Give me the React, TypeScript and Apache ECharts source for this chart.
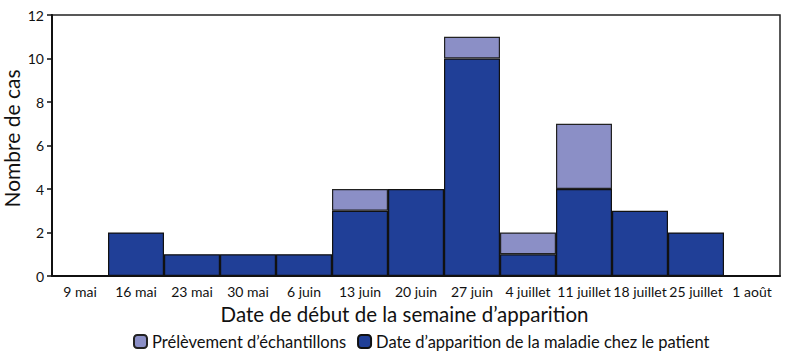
import React, { useEffect, useRef } from "react";
import * as echarts from "echarts";

const categories = ["9 mai", "16 mai", "23 mai", "30 mai", "6 juin", "13 juin", "20 juin", "27 juin", "4 juillet", "11 juillet", "18 juillet", "25 juillet", "1 août"];
const onsetValues = [0, 2, 1, 1, 1, 3, 4, 10, 1, 4, 3, 2, 0];
const sampleValues = [0, 0, 0, 0, 0, 1, 0, 1, 1, 3, 0, 0, 0];
const yTicks = [0, 2, 4, 6, 8, 10, 12];

const FONT = "Lato, 'Noto Sans', sans-serif";

export default function App() {
  const ref = useRef<HTMLDivElement>(null);
  useEffect(() => {
    if (!ref.current) return;
    const chart = echarts.init(ref.current, undefined, { renderer: "svg" });
    chart.setOption({
      animation: false,
      textStyle: { fontFamily: FONT },
      grid: {
        left: 52, right: 12, top: 15, bottom: 86,
        show: true, borderColor: "#222", borderWidth: 1.5,
        containLabel: false, outerBoundsMode: "none",
      },
      legend: {
        top: 328,
        left: 128,
        itemWidth: 13,
        itemHeight: 13,
        itemGap: 11,
        textStyle: { fontFamily: FONT, fontSize: 16.5, color: "#111" },
        data: ["Prélèvement d’échantillons", "Date d’apparition de la maladie chez le patient"],
      },
      xAxis: {
        type: "category",
        data: categories,
        boundaryGap: true,
        name: "Date de début de la semaine d’apparition",
        nameLocation: "middle",
        nameGap: 27,
        nameMoveOverlap: false,
        nameTextStyle: { fontFamily: FONT, fontSize: 20.5, color: "#111", padding: [0, 23, 0, 0] },
        axisLine: { lineStyle: { color: "#111", width: 2 } },
        axisTick: { alignWithLabel: true, length: 5, lineStyle: { color: "#111", width: 1.5 } },
        axisLabel: { fontFamily: FONT, fontSize: 14, color: "#111", margin: 8, interval: 0 },
      },
      yAxis: {
        type: "value",
        min: 0,
        max: yTicks[yTicks.length - 1],
        interval: 2,
        name: "Nombre de cas",
        nameLocation: "middle",
        nameGap: 30,
        nameMoveOverlap: false,
        nameTextStyle: { fontFamily: FONT, fontSize: 21, color: "#111", padding: [0, 0, 0, 14] },
        axisLine: { show: true, lineStyle: { color: "#111", width: 2 } },
        axisTick: { show: true, length: 5, lineStyle: { color: "#111", width: 1.5 } },
        axisLabel: { fontFamily: FONT, fontSize: 14, color: "#111", margin: 8 },
        splitLine: { show: false },
      },
      series: [
        {
          name: "Date d’apparition de la maladie chez le patient",
          type: "bar",
          stack: "total",
          barWidth: "100%",
          data: onsetValues,
          itemStyle: { color: "#203f97", borderColor: "#111", borderWidth: 1.2 },
        },
        {
          name: "Prélèvement d’échantillons",
          type: "bar",
          stack: "total",
          barWidth: "100%",
          data: sampleValues.map((v) => (v === 0 ? null : v)),
          itemStyle: { color: "#8b8fc6", borderColor: "#222", borderWidth: 1.2 },
        },
      ],
    });
    return () => chart.dispose();
  }, []);
  return <div ref={ref} style={{ width: 792, height: 362, position: "absolute", left: 0, top: 0 }} />;
}
